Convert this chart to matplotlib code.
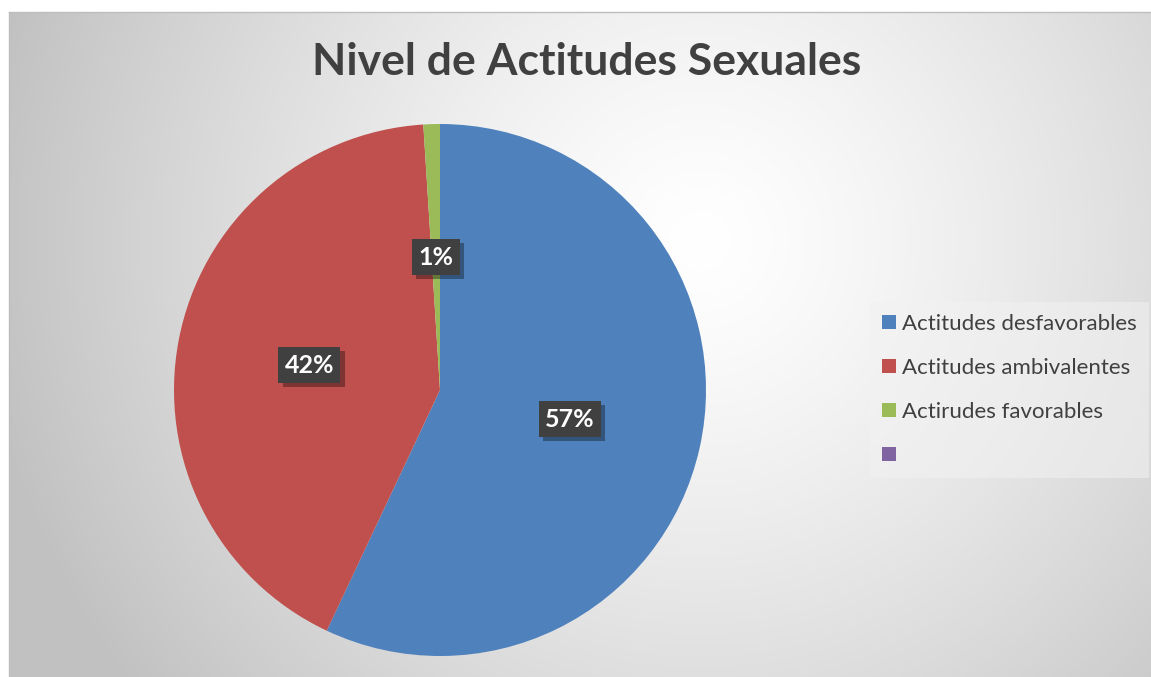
import numpy as np
import matplotlib
matplotlib.use("Agg")
import matplotlib.pyplot as plt
import matplotlib.patheffects as pe
from matplotlib.patches import Patch

TITLE = "Nivel de Actitudes Sexuales"
CATEGORIES = ["Actitudes desfavorables", "Actitudes ambivalentes", "Actirudes favorables", ""]
VALUES = [57, 42, 1]
COLORS = ["#4F81BD", "#C0504D", "#9BBB59", "#8064A2"]

W, H = 1151, 677
plt.rcParams["font.family"] = ["Lato", "DejaVu Sans"]

fig = plt.figure(figsize=(W / 100, H / 100), dpi=100)
fig.patch.set_facecolor("white")

# Chart area with a radial grey gradient (lighter toward the upper right)
x0, y0 = 9, 12
bg = fig.add_axes([x0 / W, 0, (W - x0) / W, (H - y0) / H])
xs, ys = np.meshgrid(np.arange(x0, W), np.arange(y0, H))
d = np.hypot(xs - 700, ys - 240)
shade = 1.0 - 0.24 * np.clip(d / 720, 0, 1) ** 1.3
bg.imshow(np.dstack([shade] * 3), aspect="auto", extent=(0, 1, 0, 1),
          interpolation="bilinear")
bg.set_xticks([])
bg.set_yticks([])
for s in bg.spines.values():
    s.set_color("#bdbdbd")
    s.set_linewidth(1)
bg.spines["right"].set_visible(False)
bg.spines["bottom"].set_visible(False)

# Pie
cx, cy, r = 440, 390, 266
ax = fig.add_axes([(cx - r) / W, (H - cy - r) / H, 2 * r / W, 2 * r / H])
wedges, texts, autotexts = ax.pie(
    VALUES, colors=COLORS[:3], startangle=90, counterclock=False,
    autopct="%.0f%%", pctdistance=0.5, radius=1,
    textprops=dict(color="white", fontsize=18, fontweight="bold"))
ax.set_xlim(-1, 1)
ax.set_ylim(-1, 1)
ax.set_aspect("equal")
ax.axis("off")
for t in autotexts:
    t.set_bbox(dict(boxstyle="square,pad=0.25", facecolor="#404040", edgecolor="none"))
    t.get_bbox_patch().set_path_effects(
        [pe.withSimplePatchShadow(offset=(3, -3), shadow_rgbFace="black", alpha=0.35)])

# Title
fig.text(587 / W, 1 - 62 / H, TITLE, ha="center", va="center",
         fontsize=32, fontweight="bold", color="#404040")

# Legend
handles = [Patch(facecolor=c, edgecolor="none") for c in COLORS]
leg = fig.legend(handles, CATEGORIES, loc="center left",
                 bbox_to_anchor=(870 / W, 1 - 390 / H), borderaxespad=0,
                 fontsize=16, handlelength=0.63, handleheight=0.63,
                 handletextpad=0.27, labelspacing=1.08, borderpad=0.54,
                 frameon=True, fancybox=False)
for t in leg.get_texts():
    t.set_color("#404040")
frame = leg.get_frame()
frame.set_facecolor("#f2f2f2")
frame.set_alpha(0.55)
frame.set_edgecolor("none")

fig.savefig("out.png", dpi=100)
